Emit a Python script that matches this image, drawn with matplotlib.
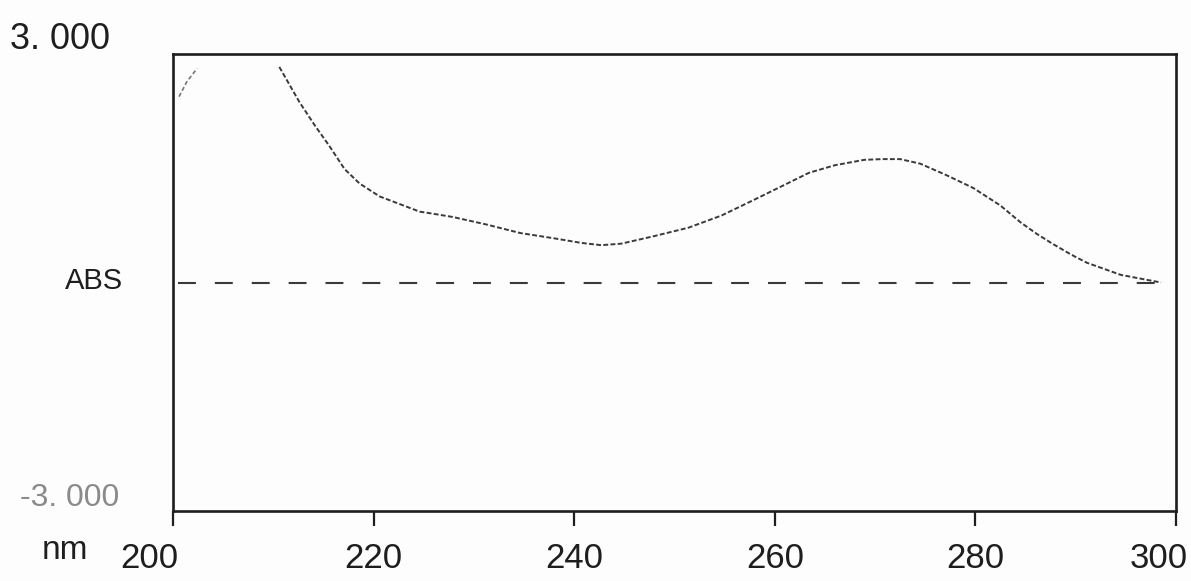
import numpy as np
import matplotlib
matplotlib.use("Agg")
import matplotlib.pyplot as plt
import matplotlib.transforms as mtransforms

# ---- data ----
wl_left = [200.6, 201.4, 202.4]
abs_left = [2.44, 2.64, 2.81]

wl_main = [210.6, 212.6, 214.1, 215.6, 217.1, 218.6, 220.6, 222.6, 224.6, 225.6,
           227.9, 231.3, 234.6, 238.0, 240.7, 242.7, 244.7, 248.0, 251.4, 254.7,
           258.0, 261.4, 263.4, 266.0, 268.9, 270.7, 272.5, 274.5, 277.1, 279.8,
           282.5, 284.5, 286.1, 287.8, 289.5, 291.1, 292.8, 294.5, 296.1, 298.5]
abs_main = [2.83, 2.37, 2.07, 1.79, 1.49, 1.30, 1.13, 1.03, 0.93, 0.91,
            0.86, 0.76, 0.65, 0.58, 0.52, 0.49, 0.51, 0.61, 0.72, 0.88,
            1.09, 1.31, 1.44, 1.54, 1.61, 1.62, 1.62, 1.56, 1.41, 1.24,
            1.01, 0.79, 0.64, 0.50, 0.37, 0.26, 0.18, 0.10, 0.06, 0.00]

baseline_wl = [200.5, 298.5]
baseline_abs = [0.0, 0.0]

xticks = [200, 220, 240, 260, 280, 300]
xtick_labels = ["200", "220", "240", "260", "280", "300"]
y_top_label = "3. 000"
y_bottom_label = "-3. 000"

plt.rcParams['font.family'] = ['Liberation Sans', 'DejaVu Sans']

W, H, DPI = 1191, 581, 100
fig = plt.figure(figsize=(W / DPI, H / DPI), dpi=DPI)
fig.patch.set_facecolor('#fdfdfd')

left, right, top, bottom = 173, 1176, 54, 511
ax = fig.add_axes([left / W, 1 - bottom / H, (right - left) / W, (bottom - top) / H])
ax.set_facecolor('#fdfdfd')
ax.set_xlim(200, 300)
ax.set_ylim(-3, 3)

ink = '#1e1e1e'
for s in ax.spines.values():
    s.set_linewidth(1.9)
    s.set_color(ink)

# spectrum
ax.plot(wl_left, abs_left, color='#777777', lw=1.2, ls=(0, (2.5, 1.5)))
ax.plot(wl_main, abs_main, color='#3a3a3a', lw=1.4, ls=(0, (2.5, 1.2)))
# zero baseline
ax.plot(baseline_wl, baseline_abs, color='#3a3a3a', lw=1.5, ls=(0, (8.6, 9.1)))

ax.set_yticks([])
ax.set_xticks(xticks)
ax.set_xticklabels(xtick_labels, fontsize=25, color=ink)
ax.tick_params(axis='x', direction='out', length=11, width=1.6, color=ink, pad=11)

labels = ax.get_xticklabels()
labels[0].set_transform(labels[0].get_transform() +
                        mtransforms.ScaledTranslation(-24 / DPI, 0, fig.dpi_scale_trans))
labels[-1].set_transform(labels[-1].get_transform() +
                         mtransforms.ScaledTranslation(-17 / DPI, 0, fig.dpi_scale_trans))

# side texts
fig.text(10 / W, 1 - 49 / H, y_top_label, fontsize=26, color=ink, ha='left', va='baseline')
fig.text(20 / W, 1 - 506 / H, y_bottom_label, fontsize=23, color='#8a8a8a', ha='left', va='baseline')
fig.text(65 / W, 1 - 289 / H, "ABS", fontsize=21, color=ink, ha='left', va='baseline')
fig.text(42 / W, 1 - 559 / H, "nm", fontsize=24, color=ink, ha='left', va='baseline')

fig.savefig("out.png", dpi=DPI, facecolor=fig.get_facecolor())
